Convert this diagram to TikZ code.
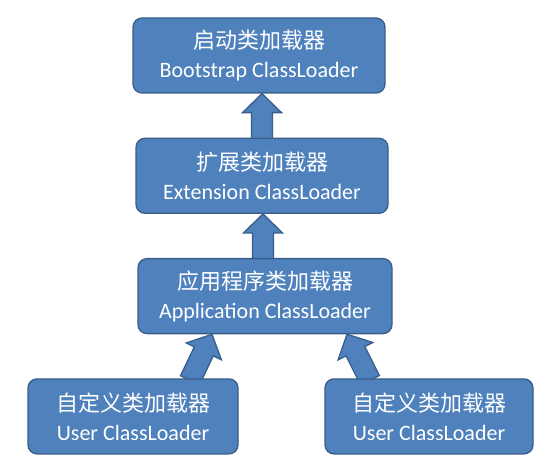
\documentclass[tikz,border=0pt]{standalone}
\usepackage{fontspec}
\setmainfont{Carlito}
\newfontfamily\cjk{Noto Sans CJK SC}
\usetikzlibrary{positioning, calc, backgrounds}
\definecolor{boxblue}{HTML}{4F81BD}
\definecolor{edgeblue}{HTML}{385D8A}

\begin{document}
\begin{tikzpicture}[
    loader/.style={draw=edgeblue, fill=boxblue, line width=1.3pt, rounded corners=9pt,
      minimum width=252pt, minimum height=75pt, inner sep=0pt, align=center,
      text=white, font=\fontsize{22}{29}\selectfont},
    pics/upblock/.style={code={
      \draw[draw=edgeblue, fill=boxblue, line width=1.3pt, line join=miter]
        (0pt,-10.5pt) -- ({#1-19pt},-10.5pt) -- ({#1-19pt},-19.5pt) -- (#1,0pt)
        -- ({#1-19pt},19.5pt) -- ({#1-19pt},10.5pt) -- (0pt,10.5pt) -- cycle;}}
  ]
  \useasboundingbox (0,0) rectangle (553pt,-473pt);

  \node[loader] (boot) at (259pt,-55.5pt) {{\cjk 启动类加载器}\\Bootstrap ClassLoader};
  \node[loader, below=44pt of boot, xshift=3pt] (ext) {{\cjk 扩展类加载器}\\Extension ClassLoader};
  \node[loader, below=44pt of ext, xshift=3pt, minimum width=254pt] (app) {{\cjk 应用程序类加载器}\\Application ClassLoader};
  \node[loader, below=44pt of app, xshift=-132pt, minimum width=210pt] (userl) {{\cjk 自定义类加载器}\\User ClassLoader};
  \node[loader, below=44pt of app, xshift=164pt, minimum width=208pt] (userr) {{\cjk 自定义类加载器}\\User ClassLoader};

  \coordinate (e1) at ($(ext.north)+(0,-3pt)$);
  \coordinate (e2) at (e1 |- boot.south);
  \coordinate (a1) at ($(app.north)+(-2pt,-3pt)$);
  \coordinate (a2) at (a1 |- ext.south);
  \coordinate (l1) at ($(userl.north)+(57pt,-2pt)$);
  \coordinate (l2) at ($(app.south)+(-53pt,0)$);
  \coordinate (r1) at ($(userr.north)+(-59pt,-2pt)$);
  \coordinate (r2) at ($(app.south)+(82pt,0)$);

  \begin{scope}[on background layer]
    \foreach \from/\to in {e1/e2, a1/a2, l1/l2, r1/r2}
      \path let \p1=($(\to)-(\from)$), \n1={atan2(\y1,\x1)}, \n2={veclen(\x1,\y1)} in
        (\from) pic[rotate=\n1] {upblock=\n2};
  \end{scope}
\end{tikzpicture}
\end{document}
